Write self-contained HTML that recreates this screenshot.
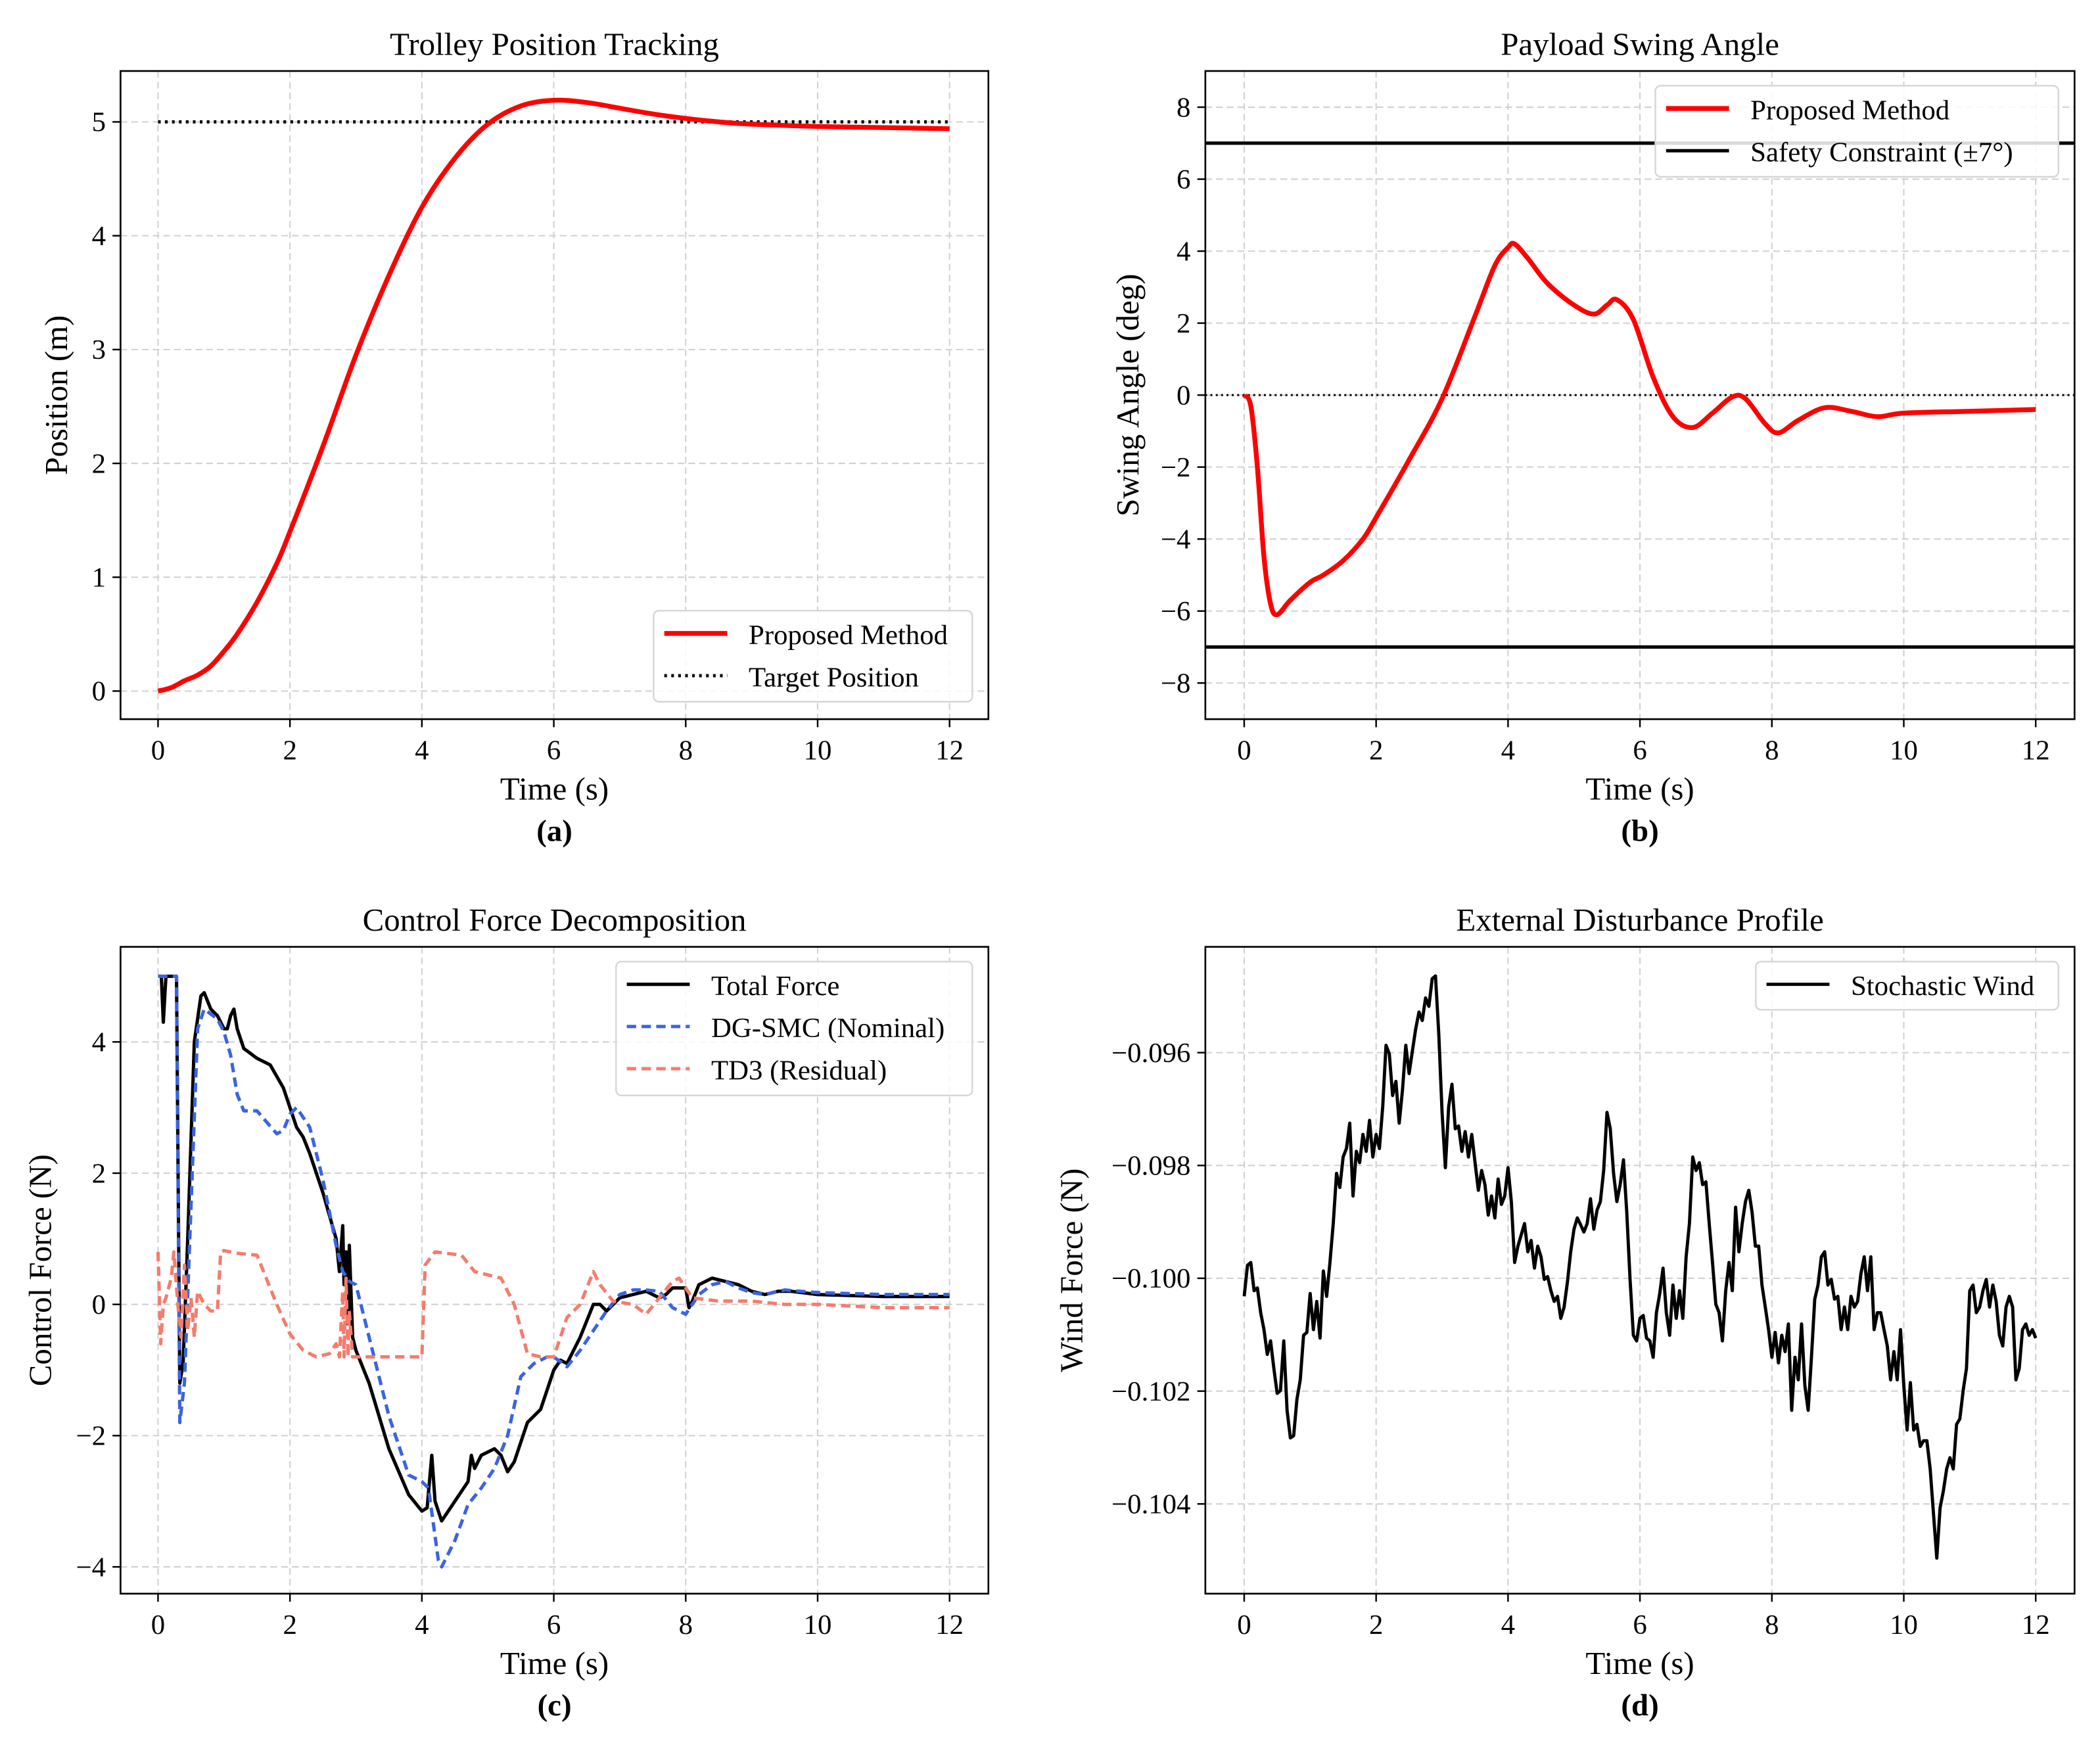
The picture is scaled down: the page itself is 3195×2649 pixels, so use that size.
<!DOCTYPE html>
<html><head><meta charset="utf-8"><style>
html,body{margin:0;padding:0;background:#fff;}
svg{display:block;font-family:"Liberation Serif","DejaVu Serif",serif;}
</style></head><body>
<svg id="fig" xmlns="http://www.w3.org/2000/svg" width="3195" height="2649" viewBox="0 0 1568 1300">
<rect width="1568" height="1300" fill="#fff"/>
</svg>
<script>
// ---------- data ----------
const posT = [0,0.2,0.4,0.6,0.8,1.0,1.2,1.5,1.8,2.0,2.5,3.0,3.5,4.0,4.5,5.0,5.5,6.0,6.5,7,7.5,8,8.5,9,10,11,12];
const posV = [0,0.03,0.09,0.14,0.22,0.35,0.5,0.78,1.12,1.4,2.15,2.95,3.65,4.25,4.68,4.98,5.14,5.19,5.17,5.12,5.07,5.03,5.0,4.98,4.96,4.95,4.94];
const targetV = [5,5];
const swingT = [0,0.1,0.2,0.3,0.4,0.5,0.7,1.0,1.2,1.5,1.8,2.0,2.5,3.0,3.5,3.8,4.0,4.1,4.3,4.6,5.0,5.3,5.5,5.65,5.9,6.2,6.5,6.8,7.1,7.4,7.6,7.9,8.1,8.4,8.8,9.2,9.6,10,11,12];
const swingV = [0,-0.3,-2,-4.5,-5.8,-6.1,-5.7,-5.2,-5.0,-4.6,-4.0,-3.4,-1.8,-0.1,2.2,3.6,4.1,4.2,3.8,3.1,2.5,2.25,2.5,2.65,2.1,0.5,-0.6,-0.9,-0.5,-0.05,-0.1,-0.8,-1.05,-0.7,-0.35,-0.45,-0.6,-0.5,-0.45,-0.4];
const safetyLimits = [7,-7];
const totT = [0,0.05,0.08,0.12,0.22,0.28,0.33,0.38,0.45,0.55,0.65,0.7,0.8,0.9,1.0,1.05,1.1,1.15,1.2,1.3,1.5,1.7,1.9,2.0,2.1,2.2,2.3,2.5,2.7,2.75,2.8,2.82,2.85,2.88,2.9,2.95,3.0,3.2,3.5,3.8,4.0,4.08,4.15,4.2,4.3,4.5,4.7,4.75,4.8,4.9,5.1,5.2,5.3,5.4,5.6,5.8,6.0,6.1,6.2,6.4,6.6,6.7,6.8,7.0,7.2,7.4,7.6,7.7,7.8,8.0,8.05,8.1,8.2,8.4,8.6,8.8,9.0,9.2,9.4,9.6,10,11,12];
const totV = [5,5,4.3,5,5,5,-1.2,-0.9,1,4.0,4.7,4.75,4.5,4.4,4.2,4.2,4.4,4.5,4.2,3.9,3.75,3.65,3.3,3.0,2.7,2.55,2.3,1.7,1.0,0.5,1.2,0.3,0.8,-0.3,0.9,-0.5,-0.7,-1.2,-2.2,-2.9,-3.15,-3.1,-2.3,-3.0,-3.3,-3.0,-2.7,-2.3,-2.5,-2.3,-2.2,-2.3,-2.55,-2.4,-1.8,-1.6,-1.0,-0.85,-0.9,-0.5,0.0,0.0,-0.1,0.1,0.15,0.2,0.1,0.15,0.25,0.25,-0.05,0.05,0.3,0.4,0.35,0.3,0.2,0.15,0.2,0.2,0.15,0.12,0.12];
const smcT = [0,0.28,0.33,0.4,0.5,0.6,0.7,0.9,1.0,1.1,1.2,1.3,1.5,1.8,1.9,2.0,2.1,2.3,2.5,2.7,2.8,2.9,3.0,3.2,3.5,3.8,4.0,4.1,4.25,4.3,4.5,4.7,4.9,5.1,5.3,5.5,5.7,5.9,6.0,6.2,6.4,6.6,6.8,7.0,7.2,7.4,7.6,7.8,8.0,8.2,8.4,8.6,8.8,9.0,9.2,9.5,10,11,12];
const smcV = [5,5,-1.8,-1.2,1.5,4.2,4.5,4.35,4.15,3.8,3.2,2.95,2.95,2.6,2.65,2.9,3.0,2.7,1.9,0.9,0.5,0.35,0.3,-0.5,-1.7,-2.6,-2.7,-2.8,-3.9,-4.0,-3.6,-3.05,-2.8,-2.5,-2.0,-1.1,-0.9,-0.8,-0.8,-0.95,-0.7,-0.4,-0.1,0.15,0.22,0.22,0.2,-0.05,-0.15,0.15,0.3,0.35,0.25,0.18,0.15,0.22,0.18,0.15,0.15];
const td3T = [0,0.04,0.08,0.12,0.2,0.24,0.3,0.35,0.4,0.45,0.5,0.55,0.6,0.7,0.8,0.9,0.95,1.0,1.2,1.5,1.8,2.0,2.2,2.4,2.6,2.7,2.75,2.8,2.82,2.85,2.88,2.9,2.95,3.5,4.0,4.05,4.2,4.6,4.8,5.2,5.4,5.6,5.8,6.0,6.2,6.4,6.6,6.7,6.9,7.2,7.4,7.6,7.8,7.9,8.1,8.5,9,9.5,10,11,12];
const td3V = [0.8,-0.6,0.0,0.1,0.4,0.8,0.0,-0.5,0.6,-0.4,0.1,-0.5,0.2,0.0,-0.1,-0.1,0.8,0.82,0.78,0.75,0.0,-0.45,-0.7,-0.8,-0.75,-0.6,-0.8,0.2,-0.8,0.4,-0.8,-0.1,-0.8,-0.8,-0.8,0.6,0.8,0.75,0.5,0.4,0.0,-0.75,-0.8,-0.8,-0.2,0.0,0.5,0.3,0.05,0.0,-0.15,0.1,0.35,0.4,0.1,0.05,0.05,0.0,0.0,-0.05,-0.05];
// wind force in mN, evenly spaced over 0..12 s
const windMilli = [-100.32,-99.77,-99.72,-100.22,-100.17,-100.61,-100.91,-101.35,-101.11,-101.60,-102.04,-101.99,-101.11,-102.34,-102.83,-102.79,-102.14,-101.80,-101.01,-100.96,-100.27,-100.91,-100.41,-101.06,-99.87,-100.32,-99.72,-99.03,-98.14,-98.39,-97.85,-97.70,-97.25,-98.54,-97.75,-97.95,-97.45,-97.75,-97.20,-97.85,-97.45,-97.70,-96.96,-95.87,-96.02,-96.76,-96.51,-97.25,-96.66,-95.87,-96.37,-95.97,-95.58,-95.28,-95.43,-95.03,-95.18,-94.69,-94.64,-95.67,-97.06,-98.04,-96.96,-96.56,-97.35,-97.30,-97.75,-97.40,-97.85,-97.45,-97.95,-98.44,-98.09,-98.34,-98.88,-98.54,-98.93,-98.24,-98.69,-98.54,-98.04,-98.64,-99.72,-99.43,-99.23,-99.03,-99.53,-99.33,-99.82,-99.43,-99.62,-100.02,-99.97,-100.22,-100.41,-100.32,-100.71,-100.51,-100.07,-99.53,-99.13,-98.93,-99.05,-99.18,-99.03,-98.59,-99.13,-98.79,-98.64,-98.09,-97.06,-97.35,-98.14,-98.64,-98.34,-97.90,-98.83,-100.02,-101.01,-101.11,-100.71,-100.66,-101.06,-101.11,-101.40,-100.61,-100.27,-99.82,-100.61,-101.01,-100.12,-100.71,-100.22,-100.71,-99.62,-99.03,-97.85,-98.09,-97.95,-98.34,-98.29,-99.03,-99.72,-100.46,-100.61,-101.11,-100.22,-99.72,-100.22,-98.74,-99.53,-99.03,-98.64,-98.44,-98.83,-99.43,-99.43,-100.12,-100.51,-100.91,-101.40,-100.96,-101.50,-101.01,-101.30,-100.81,-102.34,-101.40,-101.80,-100.81,-101.90,-102.34,-101.40,-100.37,-100.12,-99.62,-99.53,-100.12,-100.02,-100.37,-100.32,-100.91,-100.51,-100.91,-100.32,-100.51,-100.41,-99.92,-99.62,-100.22,-99.62,-100.91,-100.61,-100.61,-100.91,-101.20,-101.80,-101.30,-101.80,-100.91,-101.90,-102.69,-101.85,-102.69,-102.59,-102.98,-102.88,-102.88,-103.38,-104.17,-104.96,-104.07,-103.77,-103.38,-103.18,-103.38,-102.59,-102.49,-101.99,-101.60,-100.22,-100.12,-100.61,-100.51,-100.22,-100.02,-100.51,-100.12,-100.41,-101.01,-101.20,-100.51,-100.32,-100.51,-101.80,-101.60,-100.91,-100.81,-101.01,-100.91,-101.06];
const xTicks = [0,2,4,6,8,10,12];
const posTicks = [0,1,2,3,4,5];
const swingTicks = [-8,-6,-4,-2,0,2,4,6,8];
const forceTicks = [-4,-2,0,2,4];
const windTicks = [-0.104,-0.102,-0.100,-0.098,-0.096];
const windTickLabels = ["\u22120.104","\u22120.102","\u22120.100","\u22120.098","\u22120.096"];

// ---------- helpers ----------
const NS = "http://www.w3.org/2000/svg";
const svg = document.getElementById('fig');
function mk(tag, attrs, parent){
  const e = document.createElementNS(NS, tag);
  for (const k in attrs) e.setAttribute(k, attrs[k]);
  (parent||svg).appendChild(e);
  return e;
}
function txt(s, attrs, parent){ const e = mk('text', attrs, parent); e.textContent = s; return e; }
function minus(v){ return String(v).replace('-', '\u2212'); }
function smoothPath(pts){
  let d = 'M' + pts[0][0].toFixed(2) + ',' + pts[0][1].toFixed(2);
  for (let i=0;i<pts.length-1;i++){
    const p0=pts[Math.max(i-1,0)], p1=pts[i], p2=pts[i+1], p3=pts[Math.min(i+2,pts.length-1)];
    const c1x=p1[0]+(p2[0]-p0[0])/6, c1y=p1[1]+(p2[1]-p0[1])/6;
    const c2x=p2[0]-(p3[0]-p1[0])/6, c2y=p2[1]-(p3[1]-p1[1])/6;
    d += ' C' + c1x.toFixed(2)+','+c1y.toFixed(2)+' '+c2x.toFixed(2)+','+c2y.toFixed(2)+' '+p2[0].toFixed(2)+','+p2[1].toFixed(2);
  }
  return d;
}

function panel(cfg){
  const g = mk('g', {});
  
  
  const L=cfg.box[0], R=cfg.box[1], T=cfg.box[2], B=cfg.box[3];
  const sx = v => cfg.x0px + (v - 0) * (cfg.x12px - cfg.x0px) / 12;
  const sy = v => cfg.yAp + (v - cfg.yA) * (cfg.yBp - cfg.yAp) / (cfg.yB - cfg.yA);
  const clipId = 'clip-' + cfg.name;
  const cp = mk('clipPath', {id: clipId}, g);
  mk('rect', {x:L, y:T, width:R-L, height:B-T}, cp);
  const grid = mk('g', {stroke:'#d0d0d0', 'stroke-width':1, 'stroke-dasharray':'5,3'}, g);
  
  
  xTicks.forEach(v => mk('line', {x1:sx(v), x2:sx(v), y1:T, y2:B}, grid));
  cfg.yTicks.forEach(v => mk('line', {x1:L, x2:R, y1:sy(v), y2:sy(v)}, grid));
  const plot = mk('g', {'clip-path':'url(#' + clipId + ')', fill:'none', 'stroke-linejoin':'round', 'stroke-linecap':'butt'}, g);
  cfg.series.forEach(s => {
    const pts = s.t.map((t,i) => [sx(t), sy(s.v[i])]);
    let p;
    if (s.smooth) {
      p = mk('path', {d: smoothPath(pts), stroke: s.color, 'stroke-width': s.w, 'stroke-dasharray': s.dash || 'none'}, plot);
    } else {
      p = mk('polyline', {
        points: pts.map(q => q[0].toFixed(2) + ',' + q[1].toFixed(2)).join(' '),
        stroke: s.color, 'stroke-width': s.w, 'stroke-dasharray': s.dash || 'none'
      }, plot);
    }
    
    
  });
  mk('rect', {x:L, y:T, width:R-L, height:B-T, fill:'none', stroke:'#000', 'stroke-width':1.3}, g);
  const xa = mk('g', {}, g);
  
  
  xTicks.forEach(v => {
    mk('line', {x1:sx(v), x2:sx(v), y1:B, y2:B+6, stroke:'#000', 'stroke-width':1.2}, xa);
    const t = txt(String(v), {x:sx(v), y:B+30, 'font-size':21, 'text-anchor':'middle'}, xa);
    
    
  });
  const ya = mk('g', {}, g);
  
  
  cfg.yTicks.forEach((v,i) => {
    mk('line', {x1:L-6, x2:L, y1:sy(v), y2:sy(v), stroke:'#000', 'stroke-width':1.2}, ya);
    const lab = cfg.yLabels ? cfg.yLabels[i] : minus(v);
    const t = txt(lab, {x:L-11, y:sy(v)+7, 'font-size':21, 'text-anchor':'end'}, ya);
    
    
  });
  const cx = (L+R)/2;
  const ti = txt(cfg.title, {x:cx, y:T-12, 'font-size':24, 'text-anchor':'middle'}, g);
  
  
  const xl = txt('Time (s)', {x:cx, y:B+60, 'font-size':24, 'text-anchor':'middle'}, g);
  
  
  const sub = txt(cfg.sub, {x:cx, y:B+91, 'font-size':23, 'font-weight':'bold', 'text-anchor':'middle'}, g);
  
  
  const yl = txt(cfg.ylabel, {x:cfg.ylx, y:(T+B)/2, 'font-size':24, 'text-anchor':'middle', transform:'rotate(-90 ' + cfg.ylx + ' ' + (T+B)/2 + ')'}, g);
  
  
  const lg = mk('g', {}, g);
  
  
  const lb = cfg.legend;
  mk('rect', {x:lb.x, y:lb.y, width:lb.w, height:lb.h, rx:4, fill:'#fff', 'fill-opacity':0.85, stroke:'#d6d6d6', 'stroke-width':1.2}, lg);
  lb.items.forEach((it,i) => {
    const yy = lb.y + 17 + i*31.5;
    const ent = mk('g', {}, lg);
    
    
    mk('line', {x1:lb.x+8, x2:lb.x+55, y1:yy, y2:yy, stroke:it.color, 'stroke-width':it.w, 'stroke-dasharray':it.dash||'none'}, ent);
    txt(it.label, {x:lb.x+71, y:yy+8, 'font-size':21}, ent);
  });
}

panel({name:'panel-a-position', box:[90,738,53,537], x0px:118, x12px:709,
  yA:0, yAp:516, yB:5, yBp:91, yTicks:posTicks, title:'Trolley Position Tracking', sub:'(a)',
  ylabel:'Position (m)', ylx:50,
  series:[
    {name:'target-position-line', t:[0,12], v:targetV, color:'#000', w:2.4, dash:'2,3.2'},
    {name:'position-line', t:posT, v:posV, color:'#ff0000', w:3.6, smooth:true}],
  legend:{x:488,y:456,w:238,h:68,items:[
    {label:'Proposed Method', color:'#ff0000', w:3.6},
    {label:'Target Position', color:'#000', w:2.4, dash:'2,3.2'}]}
});
panel({name:'panel-b-swing', box:[900,1549,53,537], x0px:929, x12px:1520,
  yA:0, yAp:295, yB:8, yBp:80, yTicks:swingTicks, title:'Payload Swing Angle', sub:'(b)',
  ylabel:'Swing Angle (deg)', ylx:850,
  series:[
    {name:'zero-reference-line', t:[-1,13], v:[0,0], color:'#000', w:1.5, dash:'1.5,2.5'},
    {name:'upper-safety-limit', t:[-1,13], v:[safetyLimits[0],safetyLimits[0]], color:'#000', w:2.5},
    {name:'lower-safety-limit', t:[-1,13], v:[safetyLimits[1],safetyLimits[1]], color:'#000', w:2.5},
    {name:'swing-angle-line', t:swingT, v:swingV, color:'#ff0000', w:3.6, smooth:true}],
  legend:{x:1236,y:64,w:301,h:68,items:[
    {label:'Proposed Method', color:'#ff0000', w:3.6},
    {label:'Safety Constraint (\u00B17\u00B0)', color:'#000', w:2.5}]}
});
panel({name:'panel-c-force', box:[90,738,707,1190], x0px:118, x12px:709,
  yA:0, yAp:974, yB:4, yBp:778, yTicks:forceTicks, title:'Control Force Decomposition', sub:'(c)',
  ylabel:'Control Force (N)', ylx:38,
  series:[
    {name:'total-force-line', t:totT, v:totV, color:'#000', w:2.5},
    {name:'dg-smc-line', t:smcT, v:smcV, color:'#3a64e0', w:2.5, dash:'7,4'},
    {name:'td3-line', t:td3T, v:td3V, color:'#f47c6c', w:2.5, dash:'7,4'}],
  legend:{x:460,y:718,w:266,h:100,items:[
    {label:'Total Force', color:'#000', w:2.5},
    {label:'DG-SMC (Nominal)', color:'#3a64e0', w:2.5, dash:'7,4'},
    {label:'TD3 (Residual)', color:'#f47c6c', w:2.5, dash:'7,4'}]}
});
panel({name:'panel-d-wind', box:[900,1549,707,1190], x0px:929, x12px:1520,
  yA:-0.096, yAp:786, yB:-0.104, yBp:1123, yTicks:windTicks, yLabels:windTickLabels,
  title:'External Disturbance Profile', sub:'(d)', ylabel:'Wind Force (N)', ylx:808,
  series:[
    {name:'wind-force-line', t:windMilli.map((_,i)=>i*12/(windMilli.length-1)), v:windMilli.map(m=>m/1000), color:'#000', w:2.4}],
  legend:{x:1311,y:718,w:226,h:36,items:[
    {label:'Stochastic Wind', color:'#000', w:2.4}]}
});
</script>
</body></html>
